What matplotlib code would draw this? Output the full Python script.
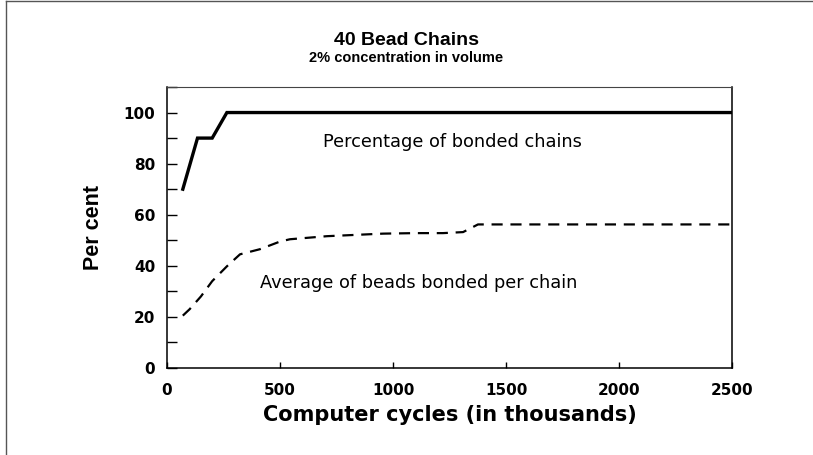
import matplotlib
matplotlib.use("Agg")
import matplotlib.pyplot as plt
from matplotlib.ticker import MultipleLocator
from matplotlib.lines import Line2D

plt.rcParams['font.family'] = ['DejaVu Sans']

# bonded chains (%)
cycles_bonded = [70, 135, 200, 265, 500, 1000, 1500, 2000, 2500]
pct_bonded = [70, 90, 90, 100, 100, 100, 100, 100, 100]

# average beads bonded per chain
cycles_beads = [70, 100, 150, 200, 265, 323, 411, 500, 544, 708, 956, 1100, 1221, 1310, 1376, 1500, 2000, 2500]
avg_beads = [20.5, 23, 28, 34, 39.8, 44.5, 46.5, 49.5, 50.4, 51.6, 52.6, 52.8, 52.8, 53.2, 56.2, 56.2, 56.2, 56.2]

xticks = [0, 500, 1000, 1500, 2000, 2500]
yticks = [0, 20, 40, 60, 80, 100]

fig = plt.figure(figsize=(8.13, 4.55), dpi=100)
ax = fig.add_axes([0.2054, 0.1912, 0.695, 0.6176])

ax.plot(cycles_bonded, pct_bonded, color='black', lw=2.4, solid_joinstyle='miter')
ax.plot(cycles_beads, avg_beads, color='black', lw=1.6, dashes=(5, 3.5))

ax.set_xlim(0, 2500)
ax.set_ylim(0, 110)
ax.set_xticks(xticks)
ax.set_yticks(yticks)
ax.yaxis.set_minor_locator(MultipleLocator(10))
ax.tick_params(axis='both', which='both', direction='in', top=False, right=False,
               labelsize=11, width=1)
ax.tick_params(axis='y', which='both', length=7, pad=8.5)
ax.tick_params(axis='x', which='major', length=4, pad=11)
for lab in ax.get_xticklabels() + ax.get_yticklabels():
    lab.set_fontweight('bold')
for s in ax.spines.values():
    s.set_linewidth(1.1)
ax.spines['top'].set_linewidth(0.8)
ax.spines['top'].set_color('#444444')

ax.text(690, 86.6, 'Percentage of bonded chains', ha='left', va='baseline', fontsize=12.8)
ax.text(411, 31.5, 'Average of beads bonded per chain', ha='left', va='baseline', fontsize=12.8)

ax.set_xlabel('Computer cycles (in thousands)', fontsize=15, fontweight='bold', labelpad=5)
ax.set_ylabel('Per cent', fontsize=15.5, fontweight='bold', va='center',
              family='Liberation Sans')
ax.yaxis.set_label_coords(-0.130, 0.5)

fig.text(0.5, 0.912, '40 Bead Chains', ha='center', va='center', fontsize=14,
         fontweight='bold', family='Liberation Sans')
fig.text(0.5, 0.872, '2% concentration in volume', ha='center', va='center', fontsize=10.5,
         fontweight='bold', family='Liberation Sans')

# page border on the left and top
fig.add_artist(Line2D([0.007, 0.007], [0.0, 0.998], transform=fig.transFigure, color='#555555', lw=1))
fig.add_artist(Line2D([0.007, 1.0], [0.998, 0.998], transform=fig.transFigure, color='#555555', lw=1))

fig.savefig('out.png', dpi=100)
